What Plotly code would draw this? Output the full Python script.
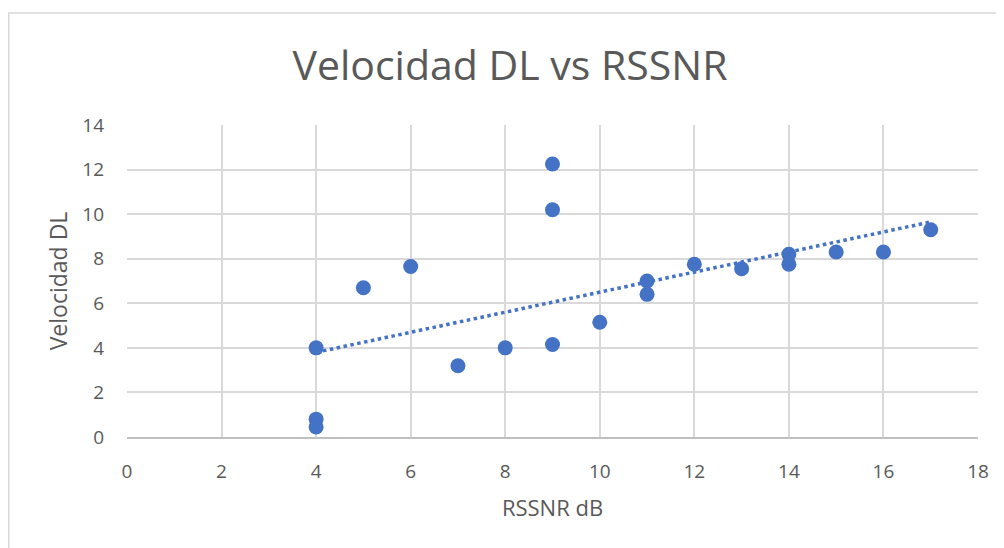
import numpy as np
import plotly.graph_objects as go

# RSSNR (dB) vs download speed
rssnr_db = [4, 4, 4, 5, 6, 7, 8, 9, 9, 9, 10, 11, 11, 12, 13, 14, 14, 15, 16, 17]
velocidad_dl = [4.0, 0.8, 0.45, 6.7, 7.65, 3.2, 4.0, 12.25, 10.2, 4.15,
                5.15, 7.0, 6.4, 7.75, 7.55, 8.2, 7.75, 8.3, 8.3, 9.3]

x_ticks = list(range(0, 19, 2))
y_ticks = list(range(0, 15, 2))

BLUE = "#4472C4"
GREY_TXT = "#595959"
FONT = "Open Sans"

# linear trendline, like Excel's
slope, intercept = np.polyfit(rssnr_db, velocidad_dl, 1)
trend_x = [min(rssnr_db), max(rssnr_db)]
trend_y = [slope * v + intercept for v in trend_x]

fig = go.Figure()
fig.add_trace(go.Scatter(
    x=rssnr_db, y=velocidad_dl, mode="markers",
    marker=dict(color=BLUE, size=15, line=dict(width=0)),
    showlegend=False,
))
fig.add_trace(go.Scatter(
    x=trend_x, y=trend_y, mode="lines",
    line=dict(color=BLUE, width=3.5, dash="dot"),
    showlegend=False,
))

# page body adds an 8px offset, so margins are shifted accordingly
W, H = 1004, 548
L, R, T, B = 119, 34, 117, 119
pw, ph = W - L - R, H - T - B

fig.update_layout(
    width=W, height=H,
    margin=dict(l=L, r=R, t=T, b=B),
    paper_bgcolor="white", plot_bgcolor="white",
    font=dict(family=FONT, color=GREY_TXT, size=19),
    title=dict(text="Velocidad DL vs RSSNR", x=0.5, xref="container",
               xanchor="center", y=1 - 58 / H, yanchor="middle",
               font=dict(family=FONT, size=41, color=GREY_TXT)),
    xaxis=dict(range=[0, 18], tickvals=x_ticks, showgrid=True,
               gridcolor="#d9d9d9", gridwidth=1.5, zeroline=False,
               showline=True, linecolor="#bfbfbf", linewidth=1.5,
               ticks="", ticklabelstandoff=16,
               title=dict(text="RSSNR dB", standoff=18,
                          font=dict(size=22, color=GREY_TXT))),
    yaxis=dict(range=[0, 14], tickvals=y_ticks, showgrid=True,
               gridcolor="#d9d9d9", gridwidth=1.5, zeroline=False,
               showline=False, ticks="", ticklabelstandoff=22,
               title=dict(text="Velocidad DL", standoff=8,
                          font=dict(size=23, color=GREY_TXT))),
    shapes=[
        # outer chart border (left and top edges visible)
        dict(type="rect", xref="paper", yref="paper",
             x0=(0.75 - L) / pw, x1=(W + 10 - L) / pw,
             y0=-(B + 10) / ph, y1=(ph + T - 5) / ph,
             line=dict(color="#d9d9d9", width=1.5), layer="below"),
    ],
)

fig.write_html("out.html")
